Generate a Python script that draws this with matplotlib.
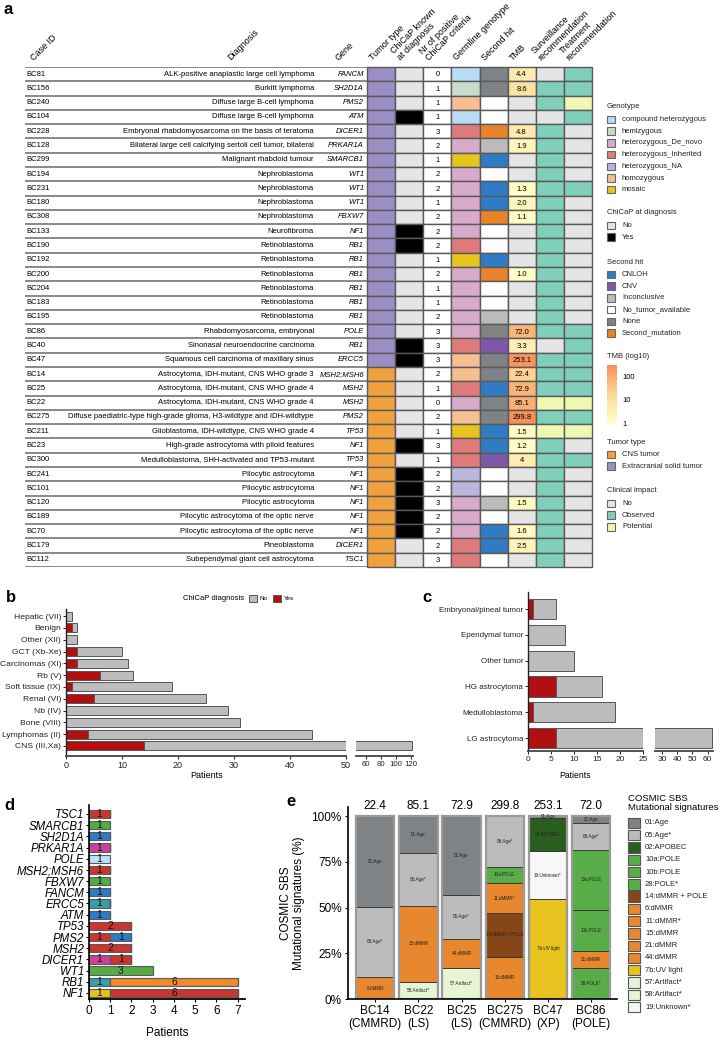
import matplotlib

matplotlib.use("Agg")
import matplotlib.pyplot as plt
import numpy as np
from matplotlib.cm import ScalarMappable
from matplotlib.colors import LinearSegmentedColormap, LogNorm
from matplotlib.patches import Rectangle

plt.rcParams["font.family"] = ["Liberation Sans", "DejaVu Sans"]

W, H = 721, 1040

# ---------------- panel a: case table ----------------
CASE_IDS = ["BC81", "BC156", "BC240", "BC104", "BC228", "BC128", "BC299", "BC194", "BC231",
            "BC180", "BC308", "BC133", "BC190", "BC192", "BC200", "BC204", "BC183", "BC195",
            "BC86", "BC40", "BC47", "BC14", "BC25", "BC22", "BC275", "BC211", "BC23", "BC300",
            "BC241", "BC101", "BC120", "BC189", "BC70", "BC179", "BC112"]
DIAGNOSES = [
    "ALK-positive anaplastic large cell lymphoma", "Burkitt lymphoma",
    "Diffuse large B-cell lymphoma", "Diffuse large B-cell lymphoma",
    "Embryonal rhabdomyosarcoma on the basis of teratoma",
    "Bilateral large cell calcifying sertoli cell tumor, bilateral",
    "Malignant rhabdoid tumour", "Nephroblastoma", "Nephroblastoma", "Nephroblastoma",
    "Nephroblastoma", "Neurofibroma", "Retinoblastoma", "Retinoblastoma", "Retinoblastoma",
    "Retinoblastoma", "Retinoblastoma", "Retinoblastoma", "Rhabdomyosarcoma, embryonal",
    "Sinonasal neuroendocrine carcinoma", "Squamous cell carcinoma of maxillary sinus",
    "Astrocytoma, IDH-mutant, CNS WHO grade 3", "Astrocytoma, IDH-mutant, CNS WHO grade 4",
    "Astrocytoma, IDH-mutant, CNS WHO grade 4",
    "Diffuse paediatric-type high-grade glioma, H3-wildtype and IDH-wildtype",
    "Glioblastoma, IDH-wildtype, CNS WHO grade 4", "High-grade astrocytoma with piloid features",
    "Medulloblastoma, SHH-activated and TP53-mutant", "Pilocytic astrocytoma",
    "Pilocytic astrocytoma", "Pilocytic astrocytoma", "Pilocytic astrocytoma of the optic nerve",
    "Pilocytic astrocytoma of the optic nerve", "Pineoblastoma",
    "Subependymal giant cell astrocytoma"]
GENES = ["FANCM", "SH2D1A", "PMS2", "ATM", "DICER1", "PRKAR1A", "SMARCB1", "WT1", "WT1", "WT1",
         "FBXW7", "NF1", "RB1", "RB1", "RB1", "RB1", "RB1", "RB1", "POLE", "RB1", "ERCC5",
         "MSH2;MSH6", "MSH2", "MSH2", "PMS2", "TP53", "NF1", "TP53", "NF1", "NF1", "NF1", "NF1",
         "NF1", "DICER1", "TSC1"]
# E = extracranial solid tumor, C = CNS tumor
TUMOR_TYPE = ["E", "E", "E", "E", "E", "E", "E", "E", "E", "E", "E", "E", "E", "E", "E", "E",
              "E", "E", "E", "E", "E", "C", "C", "C", "C", "C", "C", "C", "C", "C", "C", "C",
              "C", "C", "C"]
CHICAP_KNOWN = [0, 0, 0, 1, 0, 0, 0, 0, 0, 0, 0, 1, 1, 0, 0, 0, 0, 0, 0, 1, 1, 0, 0, 0, 0, 0,
                1, 0, 1, 1, 1, 1, 1, 0, 0]
NR_CRITERIA = [0, 1, 1, 1, 3, 2, 1, 2, 2, 1, 2, 2, 2, 1, 2, 1, 1, 2, 3, 3, 3, 2, 1, 0, 2, 1,
               3, 1, 2, 2, 3, 2, 2, 2, 3]
GENOTYPE = ["compound heterozygous", "hemizygous", "homozygous", "compound heterozygous",
            "heterozygous_Inherited", "heterozygous_De_novo", "mosaic", "heterozygous_De_novo",
            "heterozygous_De_novo", "heterozygous_De_novo", "heterozygous_De_novo",
            "heterozygous_De_novo", "heterozygous_Inherited", "mosaic", "heterozygous_De_novo",
            "heterozygous_De_novo", "heterozygous_De_novo", "heterozygous_De_novo",
            "heterozygous_De_novo", "heterozygous_Inherited", "homozygous", "homozygous",
            "heterozygous_Inherited", "heterozygous_De_novo", "homozygous", "mosaic",
            "heterozygous_Inherited", "heterozygous_Inherited", "heterozygous_NA",
            "heterozygous_NA", "heterozygous_De_novo", "heterozygous_De_novo",
            "heterozygous_De_novo", "heterozygous_Inherited", "heterozygous_Inherited"]
SECOND_HIT = ["None", "None", "No_tumor_available", "No_tumor_available", "Second_mutation",
              "Inconclusive", "CNLOH", "No_tumor_available", "CNLOH", "CNLOH", "Second_mutation",
              "No_tumor_available", "No_tumor_available", "CNLOH", "Second_mutation",
              "No_tumor_available", "No_tumor_available", "Inconclusive", "None", "CNV", "None",
              "None", "CNLOH", "None", "None", "CNLOH", "CNLOH", "CNV", "No_tumor_available",
              "No_tumor_available", "Inconclusive", "No_tumor_available", "CNLOH", "CNLOH",
              "No_tumor_available"]
TMB = ["4.4", "8.6", None, None, "4.8", "1.9", None, None, "1.3", "2.0", "1.1", None, None, None,
       "1.0", None, None, None, "72.0", "3.3", "253.1", "22.4", "72.9", "85.1", "299.8", "1.5",
       "1.2", "4", None, None, "1.5", None, "1.6", "2.5", None]
# N = No, O = Observed, P = Potential
SURVEILLANCE = ["N", "O", "O", "N", "O", "O", "O", "O", "O", "O", "O", "O", "O", "O", "O", "O",
                "O", "O", "O", "N", "O", "O", "O", "P", "O", "P", "O", "O", "O", "O", "O", "O",
                "O", "O", "O"]
TREATMENT = ["O", "O", "P", "O", "N", "N", "N", "N", "O", "N", "N", "N", "N", "N", "N", "N",
             "N", "N", "O", "O", "O", "O", "O", "P", "O", "P", "N", "O", "N", "N", "N", "N",
             "N", "N", "N"]

GENOTYPE_COLORS = {
    "compound heterozygous": "#b9dbf3", "hemizygous": "#c9dcc9",
    "heterozygous_De_novo": "#d9abcb", "heterozygous_Inherited": "#e07b7c",
    "heterozygous_NA": "#bcb5dc", "homozygous": "#f5bf92", "mosaic": "#e8c420"}
CHICAP_COLORS = {"No": "#e5e5e5", "Yes": "#000000"}
SECOND_COLORS = {"CNLOH": "#2f7bc4", "CNV": "#7e58a8", "Inconclusive": "#bbbbbb",
                 "No_tumor_available": "#ffffff", "None": "#7f8385",
                 "Second_mutation": "#e8832a"}
TUMOR_COLORS = {"CNS tumor": "#f0a13f", "Extracranial solid tumor": "#9b8ec5"}
TUMOR_CODE = {"C": "CNS tumor", "E": "Extracranial solid tumor"}
IMPACT_COLORS = {"No": "#e5e5e5", "Observed": "#80cfbb", "Potential": "#eef8b2"}
IMPACT_CODE = {"N": "No", "O": "Observed", "P": "Potential"}
TMB_CMAP = LinearSegmentedColormap.from_list("tmb", ["#ffffc8", "#fdd898", "#fa8c56"])
TMB_NORM = LogNorm(vmin=1, vmax=10 ** 2.52)

HEADERS = ["Tumor type", "ChiCaP known\nat diagnosis", "Nr of positive\nChiCaP criteria",
           "Germline genotype", "Second hit", "TMB", "Surveillance\nrecommendation",
           "Treatment\nrecommendation"]

# ---------------- panel b / c ----------------
B_CATS = ["CNS (III,Xa)", "Lymphomas (II)", "Bone (VIII)", "Nb (IV)", "Renal (VI)",
          "Soft tissue (IX)", "Rb (V)", "Carcinomas (XI)", "GCT (Xb-Xe)", "Other (XII)",
          "Benign", "Hepatic (VII)"]
B_YES = [14, 4, 0, 0, 5, 1, 6, 2, 2, 0, 1, 0]
B_NO = [107, 40, 31, 29, 20, 18, 6, 9, 8, 2, 1, 1]

C_CATS = ["LG astrocytoma", "Medulloblastoma", "HG astrocytoma", "Other tumor",
          "Ependymal tumor", "Embryonal/pineal tumor"]
C_YES = [6, 1, 6, 0, 0, 1]
C_NO = [57, 18, 10, 10, 8, 5]

YES_COLOR = "#b20f10"
NO_COLOR = "#bdbdbd"

# ---------------- panel d ----------------
D_GENES = ["NF1", "RB1", "WT1", "DICER1", "MSH2", "PMS2", "TP53", "ATM", "ERCC5", "FANCM",
           "FBXW7", "MSH2;MSH6", "POLE", "PRKAR1A", "SH2D1A", "SMARCB1", "TSC1"]
D_BENIGN = [1, 0, 0, 0, 0, 0, 0, 0, 0, 0, 0, 0, 0, 0, 0, 0, 0]
D_CARCINOMAS = [0, 1, 0, 0, 0, 0, 0, 0, 1, 0, 0, 0, 0, 0, 0, 0, 0]
D_GCT = [0, 0, 0, 1, 0, 0, 0, 0, 0, 0, 0, 0, 0, 1, 0, 0, 0]
D_CNS = [6, 0, 0, 1, 2, 1, 2, 0, 0, 0, 0, 1, 0, 0, 0, 0, 1]
D_LYMPHOMAS = [0, 0, 0, 0, 0, 1, 0, 1, 0, 1, 0, 0, 0, 0, 1, 0, 0]
D_RB = [0, 6, 0, 0, 0, 0, 0, 0, 0, 0, 0, 0, 0, 0, 0, 0, 0]
D_RENAL = [0, 0, 3, 0, 0, 0, 0, 0, 0, 0, 1, 0, 0, 0, 0, 1, 0]
D_SOFT = [0, 0, 0, 0, 0, 0, 0, 0, 0, 0, 0, 0, 1, 0, 0, 0, 0]
D_TYPES = ["Lymphomas (II)", "CNS (III,Xa)", "Rb (V)", "Renal (VI)", "Soft tissue (IX)",
           "GCT (Xb-Xe)", "Carcinomas (XI)", "Benign"]
D_COLORS = {"Lymphomas (II)": "#2f7bc4", "CNS (III,Xa)": "#c8362f", "Rb (V)": "#ef8a2e",
            "Renal (VI)": "#56ab45", "Soft tissue (IX)": "#bfe0f5", "GCT (Xb-Xe)": "#c8419b",
            "Carcinomas (XI)": "#3a9ea6", "Benign": "#e8c21e"}
D_STACK = [("Benign", D_BENIGN), ("Carcinomas (XI)", D_CARCINOMAS), ("GCT (Xb-Xe)", D_GCT),
           ("CNS (III,Xa)", D_CNS), ("Lymphomas (II)", D_LYMPHOMAS), ("Rb (V)", D_RB),
           ("Renal (VI)", D_RENAL), ("Soft tissue (IX)", D_SOFT)]

# ---------------- panel e ----------------
E_SAMPLES = ["BC14\n(CMMRD)", "BC22\n(LS)", "BC25\n(LS)", "BC275\n(CMMRD)", "BC47\n(XP)",
             "BC86\n(POLE)"]
E_TMB = ["22.4", "85.1", "72.9", "299.8", "253.1", "72.0"]
BC14_SIGS = ["6:dMMR", "05:Age*", "01:Age"]
BC14_PCT = [12.0, 38.5, 49.5]
BC22_SIGS = ["58:Artifact*", "15:dMMR", "05:Age*", "01:Age"]
BC22_PCT = [9.5, 41.6, 28.6, 20.3]
BC25_SIGS = ["57:Artifact*", "44:dMMR", "05:Age*", "01:Age"]
BC25_PCT = [16.8, 16.0, 24.1, 43.1]
BC275_SIGS = ["15:dMMR", "14:dMMR + POLE", "11:dMMR*", "10a:POLE", "05:Age*"]
BC275_PCT = [23.2, 23.9, 16.2, 9.1, 27.6]
BC47_SIGS = ["7b:UV light", "19:Unknown*", "02:APOBEC", "01:Age"]
BC47_PCT = [54.7, 26.0, 18.4, 0.9]
BC86_SIGS = ["28:POLE*", "21:dMMR", "10b:POLE", "10a:POLE", "05:Age*", "01:Age"]
BC86_PCT = [17.0, 9.5, 22.2, 32.9, 14.8, 3.6]
E_STACKS = [(BC14_SIGS, BC14_PCT), (BC22_SIGS, BC22_PCT), (BC25_SIGS, BC25_PCT),
            (BC275_SIGS, BC275_PCT), (BC47_SIGS, BC47_PCT), (BC86_SIGS, BC86_PCT)]
SIG_COLORS = {
    "01:Age": "#7f8385", "05:Age*": "#bcbcbe", "02:APOBEC": "#2a5e1f", "10a:POLE": "#58ad48",
    "10b:POLE": "#58ad48", "28:POLE*": "#58ad48", "14:dMMR + POLE": "#874617",
    "6:dMMR": "#e8872d", "11:dMMR*": "#e8872d", "15:dMMR": "#e8872d", "21:dMMR": "#e8872d",
    "44:dMMR": "#e8872d", "7b:UV light": "#e8c21e", "57:Artifact*": "#e7f4d5",
    "58:Artifact*": "#e7f4d5", "19:Unknown*": "#f7f7f7"}


def px_axes(fig, x0, y0, x1, y1):
    return fig.add_axes([x0 / W, 1 - y1 / H, (x1 - x0) / W, (y1 - y0) / H])


def legend_block(ax, x, y_title, title, items, dy=11.7, size=7.5, fs=5.5):
    ax.text(x, y_title, title, fontsize=fs, va="center", ha="left", color="#222222")
    for k, (label, color) in enumerate(items):
        yc = y_title + 12.5 + k * dy
        ax.add_patch(Rectangle((x, yc - size / 2), size, size, facecolor=color,
                               edgecolor="#666666", lw=0.8))
        ax.text(x + 15, yc, label, fontsize=fs, va="center", ha="left", color="#222222")


def draw_table(fig, ov):
    n = len(CASE_IDS)
    ax_t = px_axes(fig, 0, 67, 367, 567)
    ax_t.set_xlim(0, 367)
    ax_t.set_ylim(n, 0)
    ax_t.axis("off")
    ax_t.hlines(np.arange(n + 1), 25, 367, color="#6a6a6a", lw=1.1)
    for i in range(n):
        yc = i + 0.5
        ax_t.text(26, yc, CASE_IDS[i], fontsize=5.5, va="center", ha="left")
        ax_t.text(314, yc, DIAGNOSES[i], fontsize=5.5, va="center", ha="right")
        ax_t.text(364, yc, GENES[i], fontsize=5.5, va="center", ha="right", style="italic")

    ax_c = px_axes(fig, 367, 67, 592, 567)
    ax_c.set_xlim(0, 8)
    ax_c.set_ylim(n, 0)
    ax_c.axis("off")
    for i in range(n):
        tmb_color = TMB_CMAP(TMB_NORM(float(TMB[i]))) if TMB[i] else "#e5e5e5"
        colors = [
            TUMOR_COLORS[TUMOR_CODE[TUMOR_TYPE[i]]],
            CHICAP_COLORS["Yes" if CHICAP_KNOWN[i] else "No"],
            "#ffffff",
            GENOTYPE_COLORS[GENOTYPE[i]],
            SECOND_COLORS[SECOND_HIT[i]],
            tmb_color,
            IMPACT_COLORS[IMPACT_CODE[SURVEILLANCE[i]]],
            IMPACT_COLORS[IMPACT_CODE[TREATMENT[i]]],
        ]
        for j, color in enumerate(colors):
            ax_c.add_patch(Rectangle((j, i), 1, 1, facecolor=color, edgecolor="#595959",
                                     lw=1.0, clip_on=False))
        ax_c.text(2.5, i + 0.55, str(NR_CRITERIA[i]), fontsize=5.5, ha="center", va="center")
        if TMB[i]:
            ax_c.text(5.5, i + 0.55, TMB[i], fontsize=5.5, ha="center", va="center")

    # rotated headers
    for x, label in [(35, "Case ID"), (232, "Diagnosis"), (340, "Gene")]:
        ov.text(x, 62, label, rotation=45, rotation_mode="anchor", ha="left", va="bottom",
                fontsize=6.5)
    for j, label in enumerate(HEADERS):
        ov.text(367 + j * 28.1 + 7, 62, label, rotation=45, rotation_mode="anchor",
                ha="left", va="bottom", fontsize=6.5, linespacing=1.0)

    # legends
    legend_block(ov, 607, 107, "Genotype", list(GENOTYPE_COLORS.items()))
    legend_block(ov, 607, 213, "ChiCaP at diagnosis", list(CHICAP_COLORS.items()))
    legend_block(ov, 607, 262, "Second hit", list(SECOND_COLORS.items()))
    ov.text(607, 357, "TMB (log10)", fontsize=5.5, va="center", ha="left", color="#222222")
    cax = px_axes(fig, 607, 365, 617, 423)
    cb = fig.colorbar(ScalarMappable(norm=TMB_NORM, cmap=TMB_CMAP), cax=cax)
    cb.set_ticks([1, 10, 100])
    cb.set_ticklabels(["1", "10", "100"])
    cb.ax.minorticks_off()
    cb.ax.tick_params(length=0, labelsize=5.5, pad=4)
    cb.outline.set_visible(False)
    legend_block(ov, 607, 442, "Tumor type", list(TUMOR_COLORS.items()))
    legend_block(ov, 607, 491, "Clinical impact", list(IMPACT_COLORS.items()))


def style_hbar_axes(ax, left=True):
    for side in ["top", "right"]:
        ax.spines[side].set_visible(False)
    ax.spines["bottom"].set_color("#444444")
    ax.spines["bottom"].set_linewidth(1.3)
    if left:
        ax.spines["left"].set_color("#222222")
        ax.spines["left"].set_linewidth(1.0)
    else:
        ax.spines["left"].set_visible(False)
        ax.set_yticks([])
    ax.tick_params(axis="both", length=2, width=0.7, pad=1.5, colors="#222222")


def draw_broken_bars(fig, box_left, box_right, cats, yes, no, xl_left, xl_right, xt_left,
                     xt_right, ylim, height, label_fs, tick_fs, tick_fs_right):
    y = np.arange(len(cats))
    for box, xl, xt, is_left in [(box_left, xl_left, xt_left, True),
                                 (box_right, xl_right, xt_right, False)]:
        ax = px_axes(fig, *box)
        ax.barh(y, yes, height=height, color=YES_COLOR, edgecolor="#555555", lw=0.7)
        ax.barh(y, no, left=yes, height=height, color=NO_COLOR, edgecolor="#555555", lw=0.7)
        ax.set_xlim(*xl)
        ax.set_ylim(*ylim)
        ax.set_xticks(xt)
        style_hbar_axes(ax, left=is_left)
        ax.tick_params(axis="x", labelsize=tick_fs if is_left else tick_fs_right)
        if is_left:
            ax.set_yticks(y)
            ax.set_yticklabels(cats, fontsize=label_fs)


def draw_panel_d(fig, ov):
    ax = px_axes(fig, 89, 805, 245, 999)
    y = np.arange(len(D_GENES))
    left = np.zeros(len(D_GENES))
    for name, counts in D_STACK:
        counts = np.array(counts)
        ax.barh(y, counts, left=left, height=0.74, color=D_COLORS[name],
                edgecolor="#5a5a5a", lw=0.8)
        for yi, c, l0 in zip(y, counts, left):
            if c > 0:
                ax.text(l0 + c / 2, yi, str(c), ha="center", va="center", fontsize=7.5,
                        color="#111111")
        left = left + counts
    ax.set_xlim(0, 7.35)
    ax.set_ylim(-0.54, 16.8)
    ax.set_yticks(y)
    ax.set_yticklabels(D_GENES, fontsize=8.3, style="italic")
    ax.set_xticks(range(8))
    ax.tick_params(axis="x", labelsize=8.5, length=2, width=0.8, pad=2)
    ax.tick_params(axis="y", length=2, width=0.8, pad=1.5)
    for side in ["top", "right"]:
        ax.spines[side].set_visible(False)
    ax.spines["left"].set_linewidth(1.2)
    ax.spines["bottom"].set_linewidth(1.3)
    ov.text(167, 1033, "Patients", fontsize=8.5, ha="center", va="center")

    ov.text(163, 826, "Type (ICCC-3)", fontsize=7.5, ha="left", va="center")
    for k, name in enumerate(D_TYPES):
        yc = 841 + k * 12.1
        ov.add_patch(Rectangle((163, yc - 5.2), 12.5, 10.4, facecolor=D_COLORS[name],
                               edgecolor="#555555", lw=0.8))
        ov.text(180, yc, name, fontsize=5.5, ha="left", va="center", color="#222222")


def draw_panel_e(fig, ov):
    ax = px_axes(fig, 348, 807, 617, 999)
    x = np.arange(len(E_SAMPLES))
    for xi, (sigs, pct) in zip(x, E_STACKS):
        bottom = 0.0
        for sig, val in zip(sigs, pct):
            ax.bar(xi, val, bottom=bottom, width=0.89, color=SIG_COLORS[sig],
                   edgecolor="#333333", lw=0.6)
            ax.text(xi, bottom + val / 2, sig, ha="center", va="center", fontsize=3.3,
                    color="#222222")
            bottom += val
    totals = [sum(p) for _, p in E_STACKS]
    ax.bar(x, totals, width=0.89, fill=False, edgecolor="#9a9a9a", lw=1.6)
    for xi, t, lab in zip(x, totals, E_TMB):
        ax.text(xi, t + 2.2, lab, ha="center", va="bottom", fontsize=8.5)
    ax.set_xlim(-0.63, 5.6)
    ax.set_ylim(0, 105)
    ax.set_yticks([0, 25, 50, 75, 100])
    ax.set_yticklabels(["0%", "25%", "50%", "75%", "100%"])
    ax.set_xticks(x)
    ax.set_xticklabels(E_SAMPLES, linespacing=1.05)
    ax.tick_params(axis="both", labelsize=8.5, length=2.5, width=0.8, pad=2)
    for side in ["top", "right"]:
        ax.spines[side].set_visible(False)
    ax.spines["left"].set_linewidth(1.2)
    ax.spines["bottom"].set_linewidth(1.2)
    ax.set_ylabel("COSMIC SBS\nMutational signatures (%)", fontsize=8.5, labelpad=5,
                  linespacing=1.05)

    ov.text(628, 803, "COSMIC SBS\nMutational signatures", fontsize=6.8, ha="left",
            va="center", linespacing=1.05)
    for k, sig in enumerate(SIG_COLORS):
        yc = 823 + k * 12.27
        ov.add_patch(Rectangle((628, yc - 5.2), 12, 10.4, facecolor=SIG_COLORS[sig],
                               edgecolor="#555555", lw=0.8))
        ov.text(645, yc, sig, fontsize=5.5, ha="left", va="center", color="#222222")


def main() -> None:
    fig = plt.figure(figsize=(W / 100, H / 100), dpi=100)
    ov = px_axes(fig, 0, 0, W, H)
    ov.set_xlim(0, W)
    ov.set_ylim(H, 0)
    ov.axis("off")

    draw_table(fig, ov)

    # panel b
    draw_broken_bars(fig, (66, 609, 346, 756), (356, 609, 413, 756), B_CATS, B_YES, B_NO,
                     (0, 50), (46, 123), [0, 10, 20, 30, 40, 50], [60, 80, 100, 120],
                     (-0.85, 11.6), 0.76, 6.1, 6.5, 5.6)
    ov.text(207, 776, "Patients", fontsize=6.5, ha="center", va="center")
    ov.text(183, 598, "ChiCaP diagnosis", fontsize=5.5, ha="left", va="center")
    ov.add_patch(Rectangle((249, 594.5), 7.5, 7.5, facecolor=NO_COLOR, edgecolor="#555555",
                           lw=0.7))
    ov.text(260, 598, "No", fontsize=4.5, ha="left", va="center")
    ov.add_patch(Rectangle((273, 594.5), 7.5, 7.5, facecolor=YES_COLOR, edgecolor="#555555",
                           lw=0.7))
    ov.text(284, 598, "Yes", fontsize=4.5, ha="left", va="center")

    # panel c
    draw_broken_bars(fig, (528, 592, 643, 751), (655, 592, 713, 751), C_CATS, C_YES, C_NO,
                     (0, 25), (25.5, 63.5), [0, 5, 10, 15, 20, 25], [30, 40, 50, 60],
                     (-0.5, 5.66), 0.78, 5.8, 6.0, 6.0)
    ov.text(575, 776, "Patients", fontsize=6.2, ha="center", va="center")

    draw_panel_d(fig, ov)
    draw_panel_e(fig, ov)

    for label, (x, y) in {"a": (4, 10), "b": (6, 598), "c": (422, 597), "d": (4, 806),
                          "e": (286, 802)}.items():
        ov.text(x, y, label, fontsize=12, fontweight="bold", ha="left", va="center")

    fig.savefig("out.png", dpi=100)
    plt.close(fig)


if __name__ == "__main__":
    main()
